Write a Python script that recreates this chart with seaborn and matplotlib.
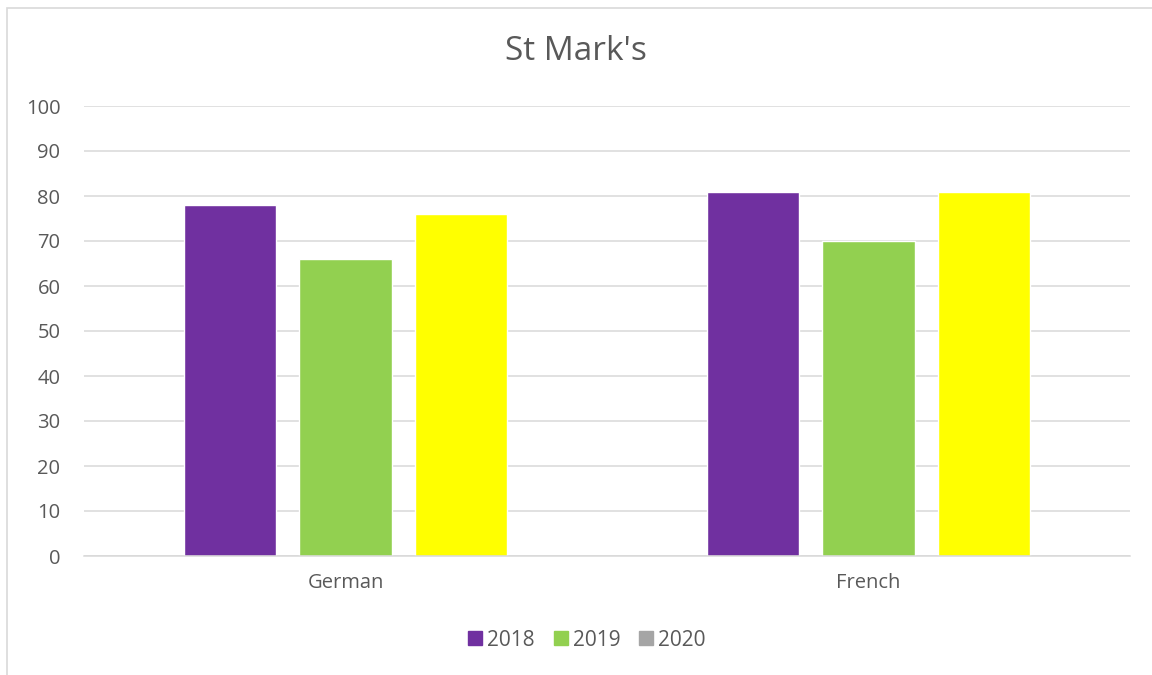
import pandas as pd
import matplotlib.pyplot as plt
import matplotlib.patches as mpatches
import seaborn as sns

# Chart data
subjects = ["German", "French"]
years = ["2018", "2019", "2020"]
scores_2018 = [78, 81]
scores_2019 = [66, 70]
scores_2020 = [76, 81]

bar_colors = {"2018": "#7030A0", "2019": "#92D050", "2020": "#FFFF00"}
legend_colors = {"2018": "#7030A0", "2019": "#92D050", "2020": "#A5A5A5"}

df = pd.DataFrame({
    "Subject": subjects * 3,
    "Year": [y for y in years for _ in subjects],
    "Score": scores_2018 + scores_2019 + scores_2020,
})

sns.set_style("white")
plt.rcParams["font.family"] = ["Open Sans", "DejaVu Sans"]
text_color = "#595959"

fig = plt.figure(figsize=(11.52, 6.75), dpi=100)
ax = fig.add_axes([84 / 1152, 1 - 556 / 675, (1130 - 84) / 1152, (556 - 106) / 675])

sns.barplot(data=df, x="Subject", y="Score", hue="Year", order=subjects,
            hue_order=years, palette=bar_colors, width=0.663, gap=0.2,
            saturation=1, ax=ax, legend=False)

ax.set_ylim(0, 100)
ax.set_xlim(-0.5, 1.5)
ax.set_yticks(range(0, 101, 10))
ax.yaxis.grid(True, color="#D9D9D9", linewidth=1.1)
ax.set_axisbelow(True)
for side in ["top", "right", "left"]:
    ax.spines[side].set_visible(False)
ax.spines["bottom"].set_color("#D9D9D9")
ax.spines["bottom"].set_linewidth(1.1)
ax.tick_params(axis="both", length=0, labelsize=14.5, colors=text_color)
ax.tick_params(axis="x", pad=12)
ax.tick_params(axis="y", pad=17)
ax.set_xlabel("")
ax.set_ylabel("")

fig.text(0.5, 1 - 52 / 675, "St Mark's", ha="center", va="center",
         fontsize=24, color=text_color)

handles = [mpatches.Patch(color=legend_colors[y], label=y) for y in years]
fig.legend(handles=handles, loc="center", bbox_to_anchor=(587 / 1152, 1 - 640 / 675),
           ncol=3, frameon=False, fontsize=15, handlelength=0.67, handleheight=0.67,
           handletextpad=0.25, columnspacing=0.9, labelcolor=text_color)

# chart border
fig.patches.append(mpatches.Rectangle((7 / 1152, -0.01), 1.02, 1 - 8 / 675 + 0.01,
                                      transform=fig.transFigure, fill=False,
                                      edgecolor="#D9D9D9", linewidth=1.2))

fig.savefig("out.png", dpi=100)
